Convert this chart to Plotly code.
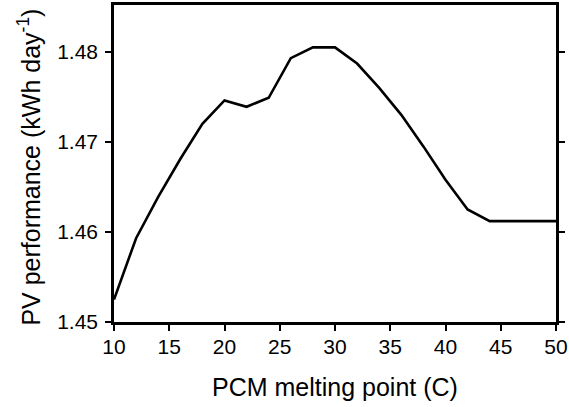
import plotly.graph_objects as go

melting_point = [10, 12, 14, 16, 18, 20, 22, 24, 26, 28, 30, 32, 34, 36, 38, 40, 42, 44, 50]
pv_performance = [1.4525, 1.4593, 1.4639, 1.4681, 1.4720, 1.4746, 1.4739, 1.4749, 1.4793, 1.4805,
                  1.4805, 1.4787, 1.4760, 1.4730, 1.4695, 1.4658, 1.4625, 1.4612, 1.4612]
x_ticks = [10, 15, 20, 25, 30, 35, 40, 45, 50]
y_ticks = [1.45, 1.46, 1.47, 1.48]
x_title = "PCM melting point (C)"
y_title = "PV performance (kWh day<sup>-1</sup>)"

fig = go.Figure()
fig.add_trace(go.Scatter(x=melting_point, y=pv_performance, mode="lines",
                         line=dict(color="black", width=2.6), showlegend=False))

font = "Liberation Sans, Arial, Helvetica, sans-serif"
fig.update_layout(
    width=569, height=407,
    margin=dict(l=114, r=13, t=5, b=85, autoexpand=False),
    paper_bgcolor="white", plot_bgcolor="white",
    font=dict(family=font, size=21, color="black"),
)
fig.update_xaxes(
    range=[10, 50], tickvals=x_ticks, ticks="outside", ticklen=6, tickwidth=2,
    tickcolor="black", showline=True, linewidth=2.5, linecolor="black", mirror=True,
    showgrid=False, zeroline=False, automargin=False, ticklabelstandoff=-2,
)
fig.update_yaxes(
    range=[1.45, 1.4852], tickvals=y_ticks, tickformat=".2f", ticks="outside", ticklen=6,
    tickwidth=2, tickcolor="black", showline=True, linewidth=2.5, linecolor="black",
    mirror="ticks", showgrid=False, zeroline=False, automargin=False, ticklabelstandoff=3,
)
fig.add_annotation(text=x_title, xref="paper", yref="paper", x=0.5, y=-0.205,
                   xanchor="center", yanchor="middle", showarrow=False,
                   font=dict(size=25, family=font, color="black"))
fig.add_annotation(text=y_title, xref="paper", yref="paper", x=-0.1923, y=0.487,
                   xanchor="center", yanchor="middle", textangle=-90, showarrow=False,
                   font=dict(size=25, family=font, color="black"))
fig.write_html("out.html", config={"displayModeBar": False},
               post_script="document.body.style.margin='0';")
